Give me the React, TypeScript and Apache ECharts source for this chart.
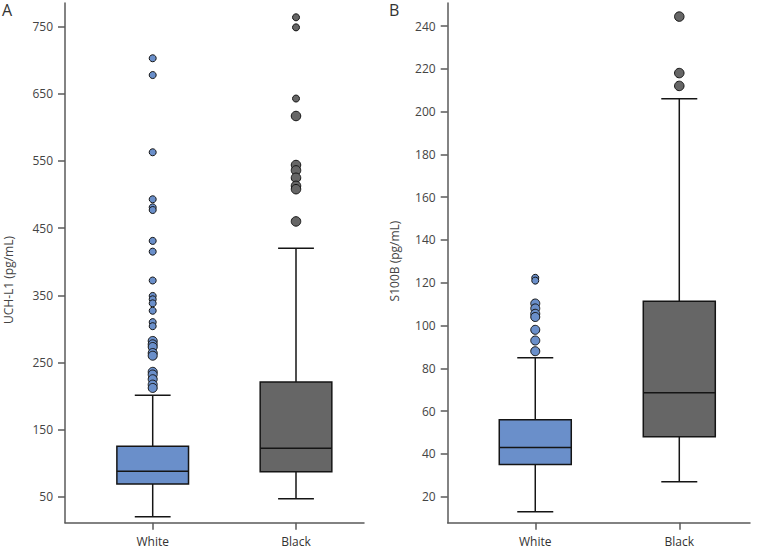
import React, { useEffect, useRef } from "react";
import * as echarts from "echarts";

const categories = ["White", "Black"];

// Panel A: UCH-L1 (pg/mL) — [low whisker, Q1, median, Q3, high whisker]
const uchWhiteBox = [20, 69, 88, 125, 201];
const uchBlackBox = [47, 87, 122, 221, 420];
const uchWhiteFar = [703, 678, 563, 493, 481, 477, 431, 415, 372, 349, 344, 338, 327, 310, 304];
const uchWhiteNear = [282, 277, 273, 264, 260, 236, 232, 225, 217, 212];
const uchBlackFar = [764, 749, 643];
const uchBlackNear = [617, 544, 536, 525, 513, 508, 460];
const uchTicks = [50, 150, 250, 350, 450, 550, 650, 750];

// Panel B: S100B (pg/mL)
const s100WhiteBox = [13, 35, 43, 56, 85];
const s100BlackBox = [27, 48, 68.6, 111.4, 206];
const s100WhiteFar = [122.3, 121];
const s100WhiteNear = [110.3, 108, 105.5, 104, 98, 93, 88];
const s100BlackNear = [244.4, 218, 212];
const s100Ticks = [20, 40, 60, 80, 100, 120, 140, 160, 180, 200, 220, 240];

const BLUE = "#6a8fca";
const GRAY = "#666666";
const LINE = "#151515";
const AXIS = "#5a5a5a";
const FONT = "Open Sans";

function boxSeries(pos: number, box: number[], color: string, idx: number) {
  return {
    type: "custom",
    xAxisIndex: idx,
    yAxisIndex: idx,
    z: 2,
    data: [[pos, ...box]],
    renderItem: (_p: any, api: any) => {
      const x = api.value(0);
      const lo = api.coord([x, api.value(1)]);
      const q1 = api.coord([x, api.value(2)]);
      const md = api.coord([x, api.value(3)]);
      const q3 = api.coord([x, api.value(4)]);
      const hi = api.coord([x, api.value(5)]);
      const bw = api.size([0.5, 0])[0];
      const cw = bw / 2;
      const cx = lo[0];
      const ls = { stroke: LINE, lineWidth: 1.5 };
      return {
        type: "group",
        children: [
          { type: "line", shape: { x1: cx, y1: lo[1], x2: cx, y2: q1[1] }, style: ls },
          { type: "line", shape: { x1: cx, y1: q3[1], x2: cx, y2: hi[1] }, style: ls },
          { type: "line", shape: { x1: cx - cw / 2, y1: lo[1], x2: cx + cw / 2, y2: lo[1] }, style: ls },
          { type: "line", shape: { x1: cx - cw / 2, y1: hi[1], x2: cx + cw / 2, y2: hi[1] }, style: ls },
          {
            type: "rect",
            shape: { x: cx - bw / 2, y: q3[1], width: bw, height: q1[1] - q3[1] },
            style: { fill: color, stroke: LINE, lineWidth: 1.5 },
          },
          { type: "line", shape: { x1: cx - bw / 2, y1: md[1], x2: cx + bw / 2, y2: md[1] }, style: ls },
        ],
      };
    },
  };
}

function dots(pos: number, vals: number[], color: string, idx: number, size: number) {
  return {
    type: "scatter",
    xAxisIndex: idx,
    yAxisIndex: idx,
    z: 3,
    symbol: "circle",
    symbolSize: size,
    itemStyle: { color, borderColor: LINE, borderWidth: 1, opacity: 1 },
    data: vals.map((v) => [pos, v]),
  };
}

function xAxis(idx: number, min: number, max: number) {
  return {
    type: "value",
    gridIndex: idx,
    min,
    max,
    splitLine: { show: false },
    axisLine: { show: true, onZero: false, lineStyle: { color: AXIS, width: 1.5 } },
    axisTick: { show: true, customValues: [1, 2], length: 7, lineStyle: { color: AXIS, width: 1.5 } },
    axisLabel: {
      customValues: [1, 2],
      formatter: (v: number) => categories[Math.round(v) - 1] ?? "",
      margin: 13,
      fontSize: 12,
      color: "#333",
      fontFamily: FONT,
    },
  };
}

function yAxis(idx: number, min: number, max: number, ticks: number[]) {
  return {
    type: "value",
    gridIndex: idx,
    min,
    max,
    splitLine: { show: false },
    axisLine: { show: true, onZero: false, lineStyle: { color: AXIS, width: 1.5 } },
    axisTick: { show: true, customValues: ticks, length: 7, lineStyle: { color: AXIS, width: 1.5 } },
    axisLabel: { customValues: ticks, margin: 12, fontSize: 12, color: "#444", fontFamily: FONT },
  };
}

export default function App() {
  const ref = useRef<HTMLDivElement>(null);
  useEffect(() => {
    if (!ref.current) return;
    const chart = echarts.init(ref.current, undefined, { renderer: "svg" });
    chart.setOption({
      animation: false,
      backgroundColor: "#ffffff",
      grid: [
        { left: 65, top: 3, width: 299, height: 519.7 },
        { left: 447.7, top: 3, width: 302.3, height: 519.7 },
      ],
      xAxis: [xAxis(0, 0.388, 2.4745), xAxis(1, 0.392, 2.491)],
      yAxis: [yAxis(0, 11.3, 785.3, uchTicks), yAxis(1, 7.85, 250.75, s100Ticks)],
      series: [
        boxSeries(1, uchWhiteBox, BLUE, 0),
        boxSeries(2, uchBlackBox, GRAY, 0),
        dots(1, uchWhiteFar, BLUE, 0, 7),
        dots(1, uchWhiteNear, BLUE, 0, 9),
        dots(2, uchBlackFar, GRAY, 0, 7),
        dots(2, uchBlackNear, GRAY, 0, 9.5),
        boxSeries(1, s100WhiteBox, BLUE, 1),
        boxSeries(2, s100BlackBox, GRAY, 1),
        dots(1, s100WhiteFar, BLUE, 1, 7),
        dots(1, s100WhiteNear, BLUE, 1, 9),
        dots(2, s100BlackNear, GRAY, 1, 9.5),
      ],
      graphic: [
        { type: "text", x: 2, y: 10, style: { text: "A", fontSize: 16, fill: "#333", fontFamily: FONT, verticalAlign: "middle" } },
        { type: "text", x: 389, y: 10, style: { text: "B", fontSize: 16, fill: "#333", fontFamily: FONT, verticalAlign: "middle" } },
        {
          type: "text",
          x: 8,
          y: 280,
          rotation: Math.PI / 2,
          style: { text: "UCH-L1 (pg/mL)", fontSize: 12, fill: "#444", fontFamily: FONT, align: "center", verticalAlign: "middle" },
        },
        {
          type: "text",
          x: 394,
          y: 261,
          rotation: Math.PI / 2,
          style: { text: "S100B (pg/mL)", fontSize: 12, fill: "#444", fontFamily: FONT, align: "center", verticalAlign: "middle" },
        },
      ],
    });
    return () => chart.dispose();
  }, []);
  return <div ref={ref} style={{ position: "fixed", left: 0, top: 0, width: 757, height: 549 }} />;
}
